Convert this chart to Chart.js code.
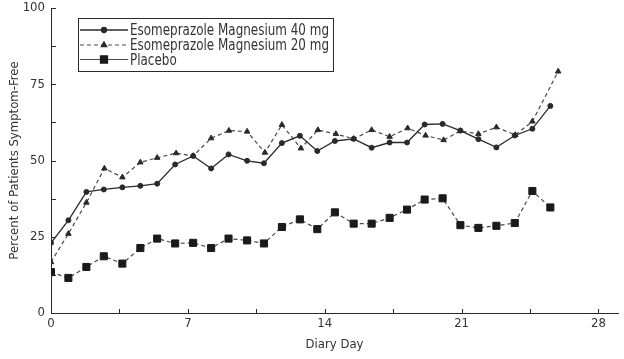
<!DOCTYPE html>
<html>
<head>
<meta charset="utf-8">
<script src="https://cdn.jsdelivr.net/npm/chart.js@4/dist/chart.umd.min.js"></script>
<style>
html,body{margin:0;padding:0;background:#fff;}
#wrap{width:624px;height:359px;position:relative;}
</style>
</head>
<body>
<div id="wrap"><canvas id="c" width="624" height="359"></canvas></div>
<script>
// Diary-day positions
const days = [0, 0.89, 1.81, 2.70, 3.65, 4.57, 5.43, 6.35, 7.27, 8.19, 9.08, 10.03, 10.89, 11.81, 12.73, 13.62, 14.52, 15.48, 16.40, 17.32, 18.21, 19.11, 20.03, 20.94, 21.86, 22.78, 23.72, 24.62, 25.54];
const days20 = [0, 0.89, 1.81, 2.73, 3.65, 4.57, 5.43, 6.40, 7.27, 8.19, 9.10, 10.03, 10.94, 11.81, 12.78, 13.65, 14.57, 15.48, 16.40, 17.32, 18.24, 19.16, 20.08, 20.94, 21.86, 22.78, 23.75, 24.62, 25.94];
const esome40 = [23.0, 30.4, 39.7, 40.5, 41.2, 41.7, 42.4, 48.7, 51.5, 47.4, 52.0, 49.9, 49.1, 55.7, 58.1, 53.1, 56.4, 57.1, 54.2, 55.9, 55.9, 61.8, 62.0, 59.8, 57.0, 54.3, 58.2, 60.4, 67.9];
const esome20 = [16.7, 26.0, 36.2, 47.4, 44.5, 49.4, 50.9, 52.4, 51.5, 57.3, 59.8, 59.5, 52.6, 61.7, 54.0, 60.0, 58.7, 57.1, 60.0, 57.8, 60.6, 58.2, 56.7, 59.7, 58.7, 60.9, 58.4, 62.8, 79.2];
const placebo = [13.4, 11.5, 15.1, 18.6, 16.2, 21.3, 24.4, 22.8, 23.0, 21.3, 24.4, 23.8, 22.8, 28.2, 30.7, 27.5, 33.0, 29.3, 29.3, 31.2, 33.9, 37.2, 37.6, 28.8, 27.9, 28.6, 29.5, 40.0, 34.6];
const seriesNames = ['Esomeprazole Magnesium 40 mg', 'Esomeprazole Magnesium 20 mg', 'Placebo'];
const xTickLabels = [0, 7, 14, 21, 28];
const yTickLabels = [0, 25, 50, 75, 100];

const FONT = "'Liberation Sans Narrow', 'DejaVu Sans Condensed', 'Liberation Sans', sans-serif";
const INK = '#2a2a2a';

function pts(xs, ys){ return ys.map((y,i)=>({x:xs[i], y:y})); }

const inwardTicks = {
  id:'inwardTicks',
  afterDraw(chart){
    const ctx = chart.ctx, a = chart.chartArea;
    ctx.save();
    ctx.strokeStyle = INK; ctx.lineWidth = 1;
    const xs = chart.scales.x, ys = chart.scales.y;
    xs.ticks.forEach(t=>{
      if (t.value > 28) return;
      const px = Math.round(xs.getPixelForValue(t.value)) + 0.5;
      ctx.beginPath(); ctx.moveTo(px, a.bottom); ctx.lineTo(px, a.bottom - 4); ctx.stroke();
    });
    ys.ticks.forEach(t=>{
      const py = Math.round(ys.getPixelForValue(t.value)) + 0.5;
      ctx.beginPath(); ctx.moveTo(a.left, py); ctx.lineTo(a.left + 5, py); ctx.stroke();
    });
    ctx.restore();
  }
};

const boxLegend = {
  id:'boxLegend',
  afterDraw(chart){
    const ctx = chart.ctx;
    ctx.save();
    ctx.strokeStyle = INK; ctx.lineWidth = 1;
    ctx.strokeRect(78.5, 18.5, 255, 53);
    const rows = [30, 45, 59.5];
    ctx.font = "15px " + FONT;
    const longest = ctx.measureText(seriesNames[0]).width;
    const sx = 199 / longest;
    chart.data.datasets.forEach((ds, i)=>{
      const y = rows[i];
      ctx.strokeStyle = ds.borderColor; ctx.lineWidth = ds.borderWidth;
      ctx.setLineDash(i === 1 ? [4,3] : []);
      ctx.beginPath(); ctx.moveTo(80, y); ctx.lineTo(128, y); ctx.stroke();
      ctx.setLineDash([]);
      ctx.fillStyle = ds.backgroundColor; ctx.strokeStyle = ds.pointBorderColor || INK;
      Chart.helpers.drawPoint(ctx, {pointStyle: ds.pointStyle, radius: ds.pointRadius, borderWidth: 1, rotation: 0}, 104, y);
      ctx.fillStyle = '#333';
      ctx.textBaseline = 'middle'; ctx.textAlign = 'left';
      ctx.save();
      ctx.translate(130, y + 1);
      ctx.scale(sx, 1.05);
      ctx.fillText(seriesNames[i], 0, 0);
      ctx.restore();
    });
    ctx.restore();
  }
};

new Chart(document.getElementById('c'), {
  type: 'line',
  data: {
    datasets: [
      { label: seriesNames[0], data: pts(days, esome40), borderColor: INK, backgroundColor: INK, borderWidth: 1.3,
        pointStyle: 'circle', pointRadius: 2.5, pointBorderColor: INK, pointBorderWidth: 1, tension: 0 },
      { label: seriesNames[1], data: pts(days20, esome20), borderColor: '#4a4a4a', backgroundColor: INK, borderWidth: 1.2, borderDash: [4,3],
        pointStyle: 'triangle', pointRadius: 3.2, pointBorderColor: INK, pointBorderWidth: 1, tension: 0 },
      { label: seriesNames[2], data: pts(days, placebo), borderColor: '#4a4a4a', backgroundColor: '#1a1a1a', borderWidth: 1.2, borderDash: [4,3],
        pointStyle: 'rect', pointRadius: 5, pointBorderColor: '#1a1a1a', pointBorderWidth: 1, tension: 0 }
    ]
  },
  options: {
    responsive: false,
    animation: false,
    layout: { padding: { top: 8, right: 3, left: 0, bottom: 0 } },
    plugins: { legend: { display: false }, tooltip: { enabled: false } },
    scales: {
      x: {
        type: 'linear', min: 0, max: 29,
        grid: { display: false, drawTicks: false },
        border: { display: true, color: INK, width: 1 },
        ticks: { stepSize: 3.5, autoSkip: false, includeBounds: false, maxRotation: 0, padding: 3,
          color: '#333', font: { family: FONT, size: 13 },
          callback: v => xTickLabels.includes(v) ? String(v) : '' },
        title: { display: true, text: 'Diary Day', color: '#333', font: { family: FONT, size: 13 }, padding: { top: 3, bottom: 7 } },
        afterFit: s => { s.height = 46; s.paddingLeft = 0; s.paddingRight = 0; }
      },
      y: {
        min: 0, max: 100,
        grid: { display: false, drawTicks: false },
        border: { display: true, color: INK, width: 1 },
        ticks: { stepSize: 12.5, autoSkip: false, padding: 6, color: '#333', font: { family: FONT, size: 13 },
          callback: v => yTickLabels.includes(v) ? String(v) : '' },
        title: { display: true, text: 'Percent of Patients Symptom-Free', color: '#333', font: { family: FONT, size: 13 }, padding: { top: 7, bottom: 0 } },
        afterFit: s => { s.width = 51; s.paddingTop = 0; s.paddingBottom = 0; }
      }
    }
  },
  plugins: [inwardTicks, boxLegend]
});
</script>
</body>
</html>
